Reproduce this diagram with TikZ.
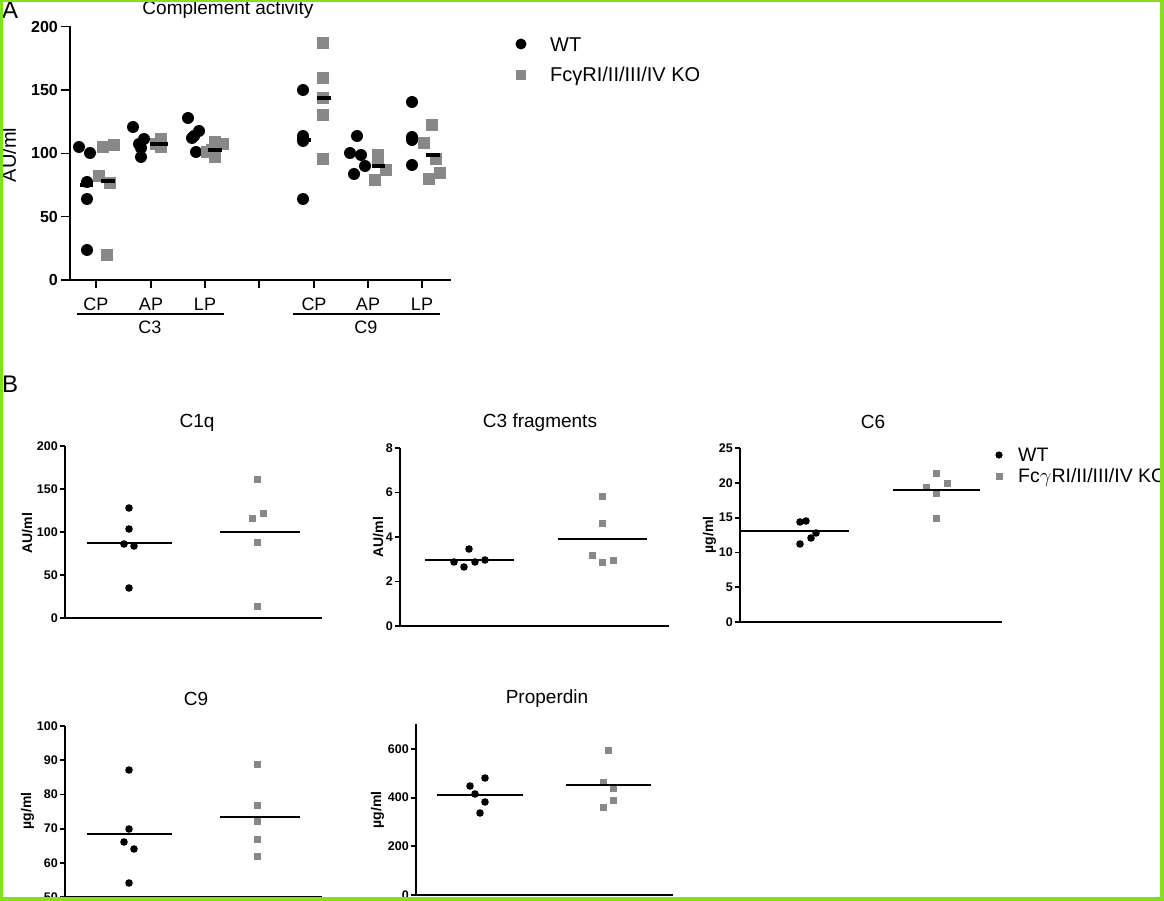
\documentclass[tikz,border=0pt]{standalone}
\usepackage{fontspec}
\setmainfont{Liberation Sans}
\usepackage{tikz}

\definecolor{kogray}{RGB}{136,136,136}
\definecolor{framegreen}{RGB}{132,224,30}
\newcommand\fs[1]{\fontsize{#1}{#1}\selectfont}
\tikzset{
  wt/.style={fill=black},
  ko/.style={fill=kogray},
  axisline/.style={line width=1.5pt},
  axisB/.style={line width=1.8pt},
  medbar/.style={line width=4pt},
  meanline/.style={line width=2pt},
  lbl/.style={inner sep=0pt},
  tickA/.style={lbl, anchor=east, font={\fs{16}\bfseries}},
  tickB/.style={lbl, anchor=east, font={\fs{12.5}\bfseries}},
  ylabB/.style={lbl, rotate=90, anchor=base, font={\fs{14}\bfseries}},
  titleB/.style={lbl, anchor=base, font={\fs{19}}},
}

\begin{document}
\begin{tikzpicture}[x=1pt,y=-1pt]
    \useasboundingbox (0,0) rectangle (1164,901);

    % panel A
    \node[lbl, anchor=base west, font={\fs{24}}] (panelA) at (2,19) {A};
    \node[lbl, anchor=base, font={\fs{19}}] (titleA) at (228,15) {Complement activity};
    \node[lbl, rotate=90, anchor=base, font={\fs{20}}] (ylabA) at (16,155) {AU/ml};

    \draw[axisline] (70,26) -- (70,280);
    \draw[axisline] (63,280) -- (451,280);
    \foreach \v in {0,50,...,200} {
        \draw[axisline] (61,{280-1.267*\v}) -- (70,{280-1.267*\v});
        \node[tickA] (a-\v) at (58,{280-1.267*\v}) {\v};
    }
    \foreach \t in {96,151,205,259,314,368,422}
        \draw[axisline] (\t,280) -- (\t,288);
    \foreach \t/\c [count=\i] in {96/CP,151/AP,205/LP,314/CP,368/AP,422/LP}
        \node[lbl, anchor=base, font={\fs{18}}] (cat\i) at (\t,310) {\c};
    \draw[axisline] (77,314) -- (224,314);
    \draw[axisline] (293,314) -- (440,314);
    \node[lbl, anchor=base, font={\fs{18}}] (grpC3) at (150,333) {C3};
    \node[lbl, anchor=base, font={\fs{18}}] (grpC9) at (366,333) {C9};

    \foreach \px/\py in {79/147,90/153,87/182,87/199,87/250,
                         133/127,144/139,139/144,141/148,141/157,
                         188/118,199/131,194/136,192/138,196/152,
                         303/90,303/136,303/139,303/141,303/199,
                         357/136,350/153,361/155,365/166,354/174,
                         412/102,412/137,412/140,412/165}
        \fill[wt] (\px,\py) circle (6pt);
    \foreach \px/\py in {103/147,114/145,99/176,110/183,107/255,
                         161/139,161/147,156/144,
                         215/142,223/144,207/152,215/157,212/150,
                         323/43,323/78,323/98,323/115,323/159,
                         378/155,378/160,386/170,375/180,
                         432/125,424/143,436/159,440/173,429/179}
        \fill[ko] (\px,\py) ++(-6pt,-6pt) rectangle ++(12pt,12pt);
    \foreach \xa/\xb/\py in {80/93/185,101/115/181,150/168/144,208/222/150,
                             297/311/140,317/331/98,372/385/166,426/440/155}
        \draw[medbar] (\xa,\py) -- (\xb,\py);

    \fill[wt] (521,44) circle (5.5pt);
    \node[lbl, anchor=base west, font={\fs{20}}] (legWT) at (550,52) {WT};
    \fill[ko] (521,75) ++(-5pt,-5pt) rectangle ++(10pt,10pt);
    \node[lbl, anchor=base west, font={\fs{20}}] (legKO) at (550,82) {FcγRI/II/III/IV KO};

    % panel B
    \node[lbl, anchor=base west, font={\fs{24}}] (panelB) at (2,392) {B};

    % C1q
    \node[titleB] (titleC1q) at (197,427) {C1q};
    \node[ylabB] (ylabC1q) at (32,533) {AU/ml};
    \draw[axisB] (65,446) -- (65,618) -- (322,618);
    \foreach \v in {0,50,...,200} {
        \draw[axisB] (60,{618-0.86*\v}) -- (65,{618-0.86*\v});
        \node[tickB] (c1q-\v) at (58,{618-0.86*\v}) {\v};
    }
    \foreach \px/\py in {129/508,129/529,124/544,134/546,129/588}
        \fill[wt] (\px,\py) circle (3.8pt);
    \foreach \px/\py in {257/479,263/513,252/518,257/542,257/606}
        \fill[ko] (\px,\py) ++(-3.5pt,-3.5pt) rectangle ++(7pt,7pt);
    \draw[meanline] (87,543) -- (172,543);
    \draw[meanline] (220,532) -- (300,532);

    % C3 fragments
    \node[titleB] (titleC3f) at (540,427) {C3 fragments};
    \node[ylabB] (ylabC3f) at (383,537) {AU/ml};
    \draw[axisB] (400,448) -- (400,626) -- (669,626);
    \foreach \v in {0,2,...,8} {
        \draw[axisB] (395,{626-22.25*\v}) -- (400,{626-22.25*\v});
        \node[tickB] (c3f-\v) at (393,{626-22.25*\v}) {\v};
    }
    \foreach \px/\py in {469/549,454/562,464/567,475/562,485/560}
        \fill[wt] (\px,\py) circle (3.8pt);
    \foreach \px/\py in {602/496,602/523,592/555,602/562,613/560}
        \fill[ko] (\px,\py) ++(-3.5pt,-3.5pt) rectangle ++(7pt,7pt);
    \draw[meanline] (425,560) -- (514,560);
    \draw[meanline] (558,539) -- (647,539);

    % C6
    \node[titleB] (titleC6) at (873,428) {C6};
    \node[ylabB] (ylabC6) at (713,535) {µg/ml};
    \draw[axisB] (740,448) -- (740,622) -- (1002,622);
    \foreach \v in {0,5,...,25} {
        \draw[axisB] (735,{622-6.96*\v}) -- (740,{622-6.96*\v});
        \node[tickB] (c6-\v) at (733,{622-6.96*\v}) {\v};
    }
    \foreach \px/\py in {800/522,806/521,816/533,811/538,800/544}
        \fill[wt] (\px,\py) circle (3.8pt);
    \foreach \px/\py in {936/473,926/487,947/483,936/493,936/518}
        \fill[ko] (\px,\py) ++(-3.5pt,-3.5pt) rectangle ++(7pt,7pt);
    \draw[meanline] (741,531) -- (849,531);
    \draw[meanline] (893,490) -- (980,490);

    \fill[wt] (999,455) circle (3.6pt);
    \node[lbl, anchor=base west, font={\fs{19.5}}] (legWTb) at (1018,461) {WT};
    \fill[ko] (999,476) ++(-3.5pt,-3.5pt) rectangle ++(7pt,7pt);
    \node[lbl, anchor=base west, font={\fs{19.5}}] (legKOb) at (1018,482) {Fc$\gamma$RI/II/III/IV KO};

    % C9
    \node[titleB] (titleC9) at (196,705) {C9};
    \node[ylabB] (ylabC9) at (31,811) {µg/ml};
    \draw[axisB] (65,726) -- (65,897) -- (322,897);
    \foreach \v in {50,60,...,100} {
        \draw[axisB] (60,{897-3.42*(\v-50)}) -- (65,{897-3.42*(\v-50)});
        \node[tickB] (c9-\v) at (58,{897-3.42*(\v-50)}) {\v};
    }
    \foreach \px/\py in {129/770,129/829,124/842,134/849,129/883}
        \fill[wt] (\px,\py) circle (3.8pt);
    \foreach \px/\py in {257/764,257/805,257/821,257/839,257/856}
        \fill[ko] (\px,\py) ++(-3.5pt,-3.5pt) rectangle ++(7pt,7pt);
    \draw[meanline] (87,834) -- (172,834);
    \draw[meanline] (220,817) -- (300,817);

    % Properdin
    \node[titleB] (titleProp) at (547,703) {Properdin};
    \node[ylabB] (ylabProp) at (381,810) {µg/ml};
    \draw[axisB] (416,724) -- (416,895) -- (673,895);
    \foreach \v in {0,200,...,600} {
        \draw[axisB] (411,{895-0.2435*\v}) -- (416,{895-0.2435*\v});
        \node[tickB] (prop-\v) at (409,{895-0.2435*\v}) {\v};
    }
    \foreach \px/\py in {485/778,470/786,475/794,485/802,480/813}
        \fill[wt] (\px,\py) circle (3.8pt);
    \foreach \px/\py in {608/750,603/782,613/788,613/800,603/807}
        \fill[ko] (\px,\py) ++(-3.5pt,-3.5pt) rectangle ++(7pt,7pt);
    \draw[meanline] (437,795) -- (523,795);
    \draw[meanline] (566,785) -- (651,785);

    \fill[framegreen, even odd rule] (0,0) rectangle (1164,901) (3,2) rectangle (1160,897);
\end{tikzpicture}
\end{document}
